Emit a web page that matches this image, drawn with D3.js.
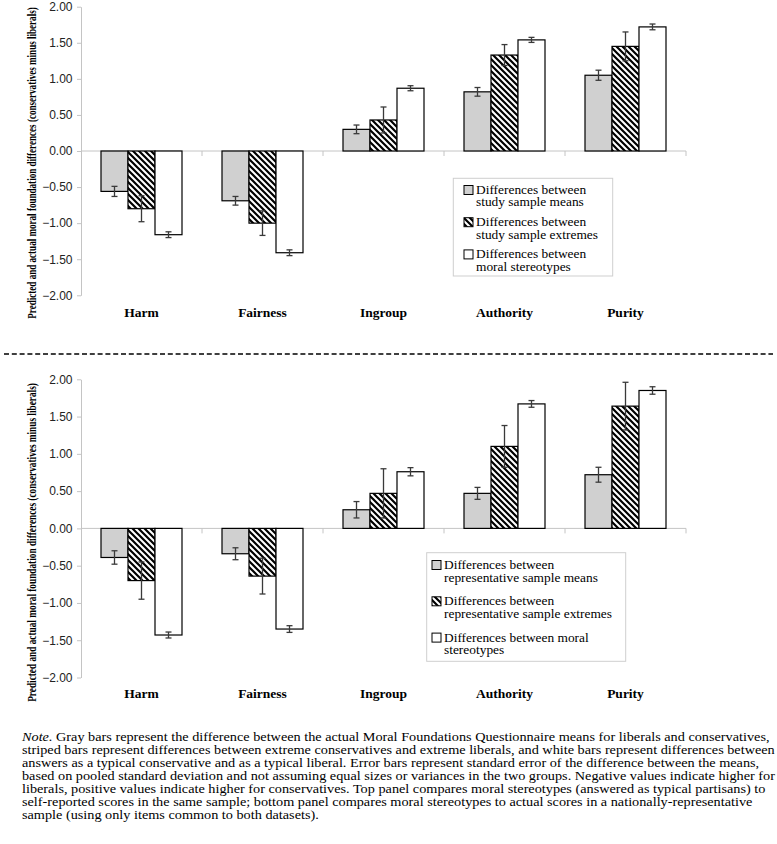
<!DOCTYPE html>
<html>
<head>
<meta charset="utf-8">
<script src="https://cdn.jsdelivr.net/npm/d3@7/dist/d3.min.js"></script>
<style>
html,body{margin:0;padding:0;background:#fff;}
svg{display:block;}
</style>
</head>
<body>
<svg id="chart" width="777" height="844"></svg>
<script>
// ---------- DATA ----------
const categories = ["Harm", "Fairness", "Ingroup", "Authority", "Purity"];
const seriesKeys = ["means", "extremes", "stereotypes"];

// Top panel (study sample)
const topMeans        = [-0.56, -0.69, 0.30, 0.82, 1.05];
const topMeansErr     = [0.07, 0.06, 0.06, 0.06, 0.07];
const topExtremes     = [-0.80, -1.00, 0.43, 1.33, 1.45];
const topExtremesErr  = [0.18, 0.17, 0.18, 0.145, 0.20];
const topStereo       = [-1.16, -1.41, 0.87, 1.54, 1.72];
const topStereoErr    = [0.04, 0.04, 0.035, 0.035, 0.04];

// Bottom panel (representative sample)
const botMeans        = [-0.39, -0.34, 0.25, 0.47, 0.72];
const botMeansErr     = [0.09, 0.08, 0.11, 0.08, 0.10];
const botExtremes     = [-0.70, -0.64, 0.47, 1.10, 1.64];
const botExtremesErr  = [0.25, 0.24, 0.33, 0.28, 0.32];
const botStereo       = [-1.43, -1.35, 0.76, 1.67, 1.85];
const botStereoErr    = [0.04, 0.045, 0.055, 0.045, 0.05];

const yTicks = [2.0, 1.5, 1.0, 0.5, 0.0, -0.5, -1.0, -1.5, -2.0];
const yTitle = "Predicted and actual moral foundation differences (conservatives minus liberals)";

const topLegend = [
  ["Differences between", "study sample means"],
  ["Differences between", "study sample extremes"],
  ["Differences between", "moral stereotypes"]
];
const botLegend = [
  ["Differences between", "representative sample means"],
  ["Differences between", "representative sample extremes"],
  ["Differences between moral", "stereotypes"]
];

const noteLines = [
  [["Note.", true], [" Gray bars represent the difference between the actual Moral Foundations Questionnaire means for liberals and conservatives,", false]],
  [["striped bars represent differences between extreme conservatives and extreme liberals, and white bars represent differences between", false]],
  [["answers as a typical conservative and as a typical liberal. Error bars represent standard error of the difference between the means,", false]],
  [["based on pooled standard deviation and not assuming equal sizes or variances in the two groups. Negative values indicate higher for", false]],
  [["liberals, positive values indicate higher for conservatives. Top panel compares moral stereotypes (answered as typical partisans) to", false]],
  [["self-reported scores in the same sample; bottom panel compares moral stereotypes to actual scores in a nationally-representative", false]],
  [["sample (using only items common to both datasets).", false]]
];

// ---------- DRAW ----------
const svg = d3.select("#chart");
const defs = svg.append("defs");
const hatch = defs.append("pattern")
  .attr("id", "hatch").attr("patternUnits", "userSpaceOnUse")
  .attr("width", 6).attr("height", 6);
hatch.append("rect").attr("width", 6).attr("height", 6).attr("fill", "#fff");
hatch.append("path")
  .attr("d", "M-3,-3 L9,9 M-3,3 L3,9 M3,-3 L9,3")
  .attr("stroke", "#000").attr("stroke-width", 2.2);

const fills = { means: "#d0d0d0", extremes: "url(#hatch)", stereotypes: "#ffffff" };
const axisColor = "#c4c4c4";
const serif = "'Liberation Serif', 'Times New Roman', serif";
const sans = "'Liberation Sans', Arial, sans-serif";

const x = d3.scaleBand().domain(categories).range([81, 686]).paddingInner(0).paddingOuter(0);
const xs = d3.scaleBand().domain(seriesKeys).range([20, x.bandwidth() - 20]);

function drawPanel(cfg) {
  const y = d3.scaleLinear().domain([-2, 2]).range([cfg.yBottom, cfg.yTop]);
  const g = svg.append("g");

  // y axis
  const yAxis = d3.axisLeft(y).tickValues(yTicks).tickSize(4).tickSizeOuter(0)
    .tickFormat(d3.format(".2f"));
  const ya = g.append("g").attr("transform", "translate(81,0)").call(yAxis);
  ya.select(".domain").attr("stroke", axisColor);
  ya.selectAll(".tick line").attr("stroke", axisColor);
  ya.selectAll(".tick text")
    .attr("x", -8.5)
    .attr("font-family", sans).attr("font-size", 12).attr("fill", "#222");

  // zero line with category boundary ticks
  const y0 = y(0);
  g.append("line").attr("x1", 81).attr("x2", 686).attr("y1", y0).attr("y2", y0)
    .attr("stroke", axisColor).attr("stroke-width", 1);
  const bounds = categories.map(c => x(c) + x.bandwidth());
  g.selectAll(".btick").data(bounds).join("line")
    .attr("x1", d => d).attr("x2", d => d)
    .attr("y1", y0).attr("y2", y0 + 5)
    .attr("stroke", axisColor);

  // bars
  const rows = [];
  categories.forEach((c, i) => {
    seriesKeys.forEach((k, j) => {
      rows.push({ cat: c, key: k, v: cfg.values[j][i], e: cfg.errors[j][i] });
    });
  });
  g.selectAll(".bar").data(rows).join("rect")
    .attr("x", d => x(d.cat) + xs(d.key))
    .attr("width", xs.bandwidth())
    .attr("y", d => Math.min(y(d.v), y0))
    .attr("height", d => Math.abs(y(d.v) - y0))
    .attr("fill", d => fills[d.key])
    .attr("stroke", "#000").attr("stroke-width", 1.2);

  // error bars
  const eb = g.selectAll(".eb").data(rows).join("g")
    .attr("transform", d => `translate(${x(d.cat) + xs(d.key) + xs.bandwidth() / 2},0)`);
  eb.append("line").attr("x1", 0).attr("x2", 0)
    .attr("y1", d => y(d.v + d.e)).attr("y2", d => y(d.v - d.e))
    .attr("stroke", "#3a3a3a").attr("stroke-width", 1.3);
  eb.append("line").attr("x1", -3).attr("x2", 3)
    .attr("y1", d => y(d.v + d.e)).attr("y2", d => y(d.v + d.e))
    .attr("stroke", "#3a3a3a").attr("stroke-width", 1.3);
  eb.append("line").attr("x1", -3).attr("x2", 3)
    .attr("y1", d => y(d.v - d.e)).attr("y2", d => y(d.v - d.e))
    .attr("stroke", "#3a3a3a").attr("stroke-width", 1.3);

  // category labels
  g.selectAll(".cat").data(categories).join("text")
    .attr("x", d => x(d) + x.bandwidth() / 2)
    .attr("y", cfg.catY)
    .attr("text-anchor", "middle")
    .attr("font-family", serif).attr("font-weight", "bold").attr("font-size", 13.5)
    .attr("fill", "#000")
    .text(d => d);

  // y title (condensed horizontally via scale)
  const tg = g.append("g");
  const tt = tg.append("text")
    .attr("text-anchor", "middle").attr("dy", "0.35em")
    .attr("font-family", serif).attr("font-weight", "bold").attr("font-size", 12.5)
    .attr("fill", "#000")
    .text(yTitle);
  const tlen = tt.node().getComputedTextLength();
  tg.attr("transform", `translate(32,${cfg.titleCenter}) rotate(-90) scale(${cfg.titleLen / tlen},1)`);

  // legend
  const L = cfg.legend;
  g.append("rect").attr("x", L.x).attr("y", L.y).attr("width", L.w).attr("height", L.h)
    .attr("fill", "#fff").attr("stroke", "#cfcfcf").attr("stroke-width", 1);
  cfg.legendText.forEach((lines, j) => {
    const cy = L.y + L.first + j * L.itemGap;
    g.append("rect").attr("x", L.sx).attr("y", cy - 4.5).attr("width", 9).attr("height", 9)
      .attr("fill", fills[seriesKeys[j]]).attr("stroke", "#000").attr("stroke-width", 1);
    lines.forEach((t, k) => {
      g.append("text")
        .attr("transform", `translate(${L.tx},${cy + 4 + k * L.lineGap}) scale(1,0.88)`)
        .attr("font-family", serif).attr("font-size", 13.4).attr("fill", "#000")
        .text(t);
    });
  });
}

drawPanel({
  yTop: 6.7, yBottom: 295.3, catY: 316.5,
  titleCenter: 163, titleLen: 312,
  values: [topMeans, topExtremes, topStereo],
  errors: [topMeansErr, topExtremesErr, topStereoErr],
  legend: { x: 453.3, y: 178.3, w: 159.4, h: 97.7, first: 11.7, itemGap: 32.2, lineGap: 12.3, sx: 464, tx: 476 },
  legendText: topLegend
});

drawPanel({
  yTop: 379.3, yBottom: 677.5, catY: 698,
  titleCenter: 542.5, titleLen: 319,
  values: [botMeans, botExtremes, botStereo],
  errors: [botMeansErr, botExtremesErr, botStereoErr],
  legend: { x: 426.7, y: 552.7, w: 199, h: 108.6, first: 12.3, itemGap: 36.3, lineGap: 12.5, sx: 432, tx: 444 },
  legendText: botLegend
});

// dashed separator
svg.append("line").attr("x1", 4).attr("x2", 773).attr("y1", 354).attr("y2", 354)
  .attr("stroke", "#000").attr("stroke-width", 1.5).attr("stroke-dasharray", "5,2.8");

// note
const noteG = svg.append("g");
const noteTexts = noteLines.map((segs, i) => {
  const t = noteG.append("text").attr("x", 0).attr("y", 741 + i * 13)
    .attr("font-family", serif).attr("font-size", 13.5).attr("fill", "#000");
  segs.forEach(([s, it]) => {
    t.append("tspan").attr("font-style", it ? "italic" : "normal").text(s);
  });
  return t;
});
const natural = noteTexts[0].node().getComputedTextLength();
const sx = (770 - 22) / natural;
noteG.attr("transform", `translate(22,0) scale(${sx},1)`);
</script>
</body>
</html>
